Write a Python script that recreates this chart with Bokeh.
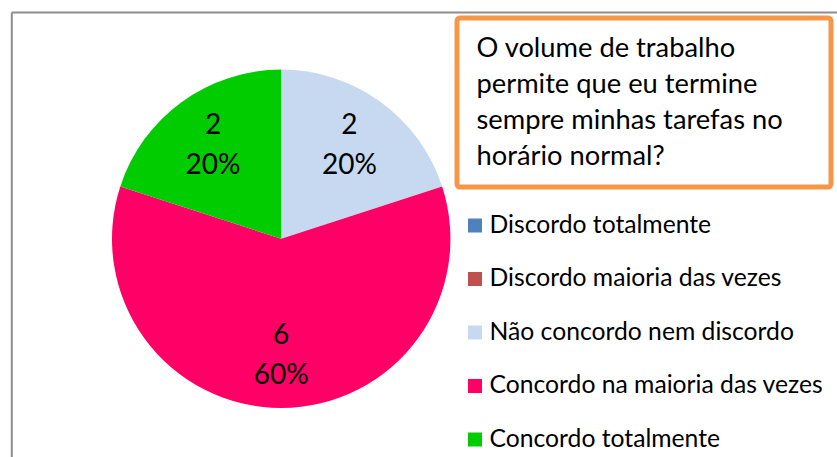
import numpy as np
from bokeh.plotting import figure
from bokeh.models import Range1d, BoxAnnotation, ColumnDataSource
from bokeh.core.properties import value
from bokeh.embed import file_html
from bokeh.resources import INLINE

# ---- data ----
categories = ["Discordo totalmente", "Discordo maioria das vezes",
              "Não concordo nem discordo", "Concordo na maioria das vezes",
              "Concordo totalmente"]
counts = [0, 0, 2, 6, 2]
colors = ["#4F81BD", "#C0504D", "#C6D9F1", "#FF0066", "#00CC00"]
title_lines = ["O volume de trabalho", "permite que eu termine",
               "sempre minhas tarefas no", "horário normal?"]

FONT = "Lato"
W, H = 837, 457
SHIFT = 10  # empirical baseline correction (px)
p = figure(width=W, height=H, x_range=Range1d(0, W), y_range=Range1d(0, H),
           output_backend="svg", toolbar_location=None, min_border=0,
           x_axis_type=None, y_axis_type=None)
p.grid.visible = False
p.outline_line_color = None
p.background_fill_color = "white"
p.border_fill_color = "white"


def Y(py):
    return H - py


# chart border (extends beyond the window)
p.line(x=[11.3, 1000], y=[Y(12), Y(12)], line_color="#8E8E8E", line_width=2)
p.line(x=[11.3, 11.3], y=[Y(12), Y(1000)], line_color="#8E8E8E", line_width=2)

# pie
cx, cy, r = 280.7, Y(238.3), 169.2
vals = np.array(counts, dtype=float)
total = vals.sum()
frac = vals / total
cum_end = np.cumsum(frac)
cum_start = cum_end - frac
start = np.pi / 2 - 2 * np.pi * cum_end
end = np.pi / 2 - 2 * np.pi * cum_start
mask = vals > 0
src = ColumnDataSource(dict(start=start[mask], end=end[mask],
                            color=[c for c, m in zip(colors, mask) if m]))
p.wedge(x=cx, y=cy, radius=r, start_angle="start", end_angle="end",
        direction="anticlock", fill_color="color", line_color=None, source=src)

# data labels
mid = (start + end) / 2
d = 116
lx = cx + d * np.cos(mid[mask])
ly = cy + d * np.sin(mid[mask])
cnt_txt = [str(int(v)) for v in vals[mask]]
pct_txt = ["%d%%" % round(f * 100) for f in frac[mask]]
p.text(x=lx, y=ly + 11 + SHIFT, text=cnt_txt, text_align="center", text_baseline="alphabetic",
       text_font=value(FONT), text_font_size="28px", text_color="black")
p.text(x=lx, y=ly - 27.7 + SHIFT, text=pct_txt, text_align="center", text_baseline="alphabetic",
       text_font=value(FONT), text_font_size="28px", text_color="black")

# title box
box = BoxAnnotation(left=456.5, right=830.5, top=Y(17.5), bottom=Y(186.5),
                    fill_color="white", fill_alpha=1.0, line_color="#F79646",
                    line_alpha=1.0, line_width=5, border_radius=3, level="underlay")
p.add_layout(box)
ty = [Y(55.5 + 36 * i) + SHIFT for i in range(len(title_lines))]
p.text(x=[476] * len(title_lines), y=ty, text=title_lines, text_align="left",
       text_baseline="alphabetic", text_font=value(FONT), text_font_size="27.3px",
       text_color="black")

# legend
leg_y = [Y(225 + 53.5 * i) for i in range(len(categories))]
p.scatter(x=[474.5] * len(categories), y=leg_y, marker="square", size=14,
          fill_color=colors, line_color=None)
p.text(x=[489] * len(categories), y=[v - 7.5 + SHIFT for v in leg_y], text=categories,
       text_align="left", text_baseline="alphabetic", text_font=value(FONT),
       text_font_size="24.7px", text_color="black")

open("out.html", "w").write(file_html(p, INLINE))
